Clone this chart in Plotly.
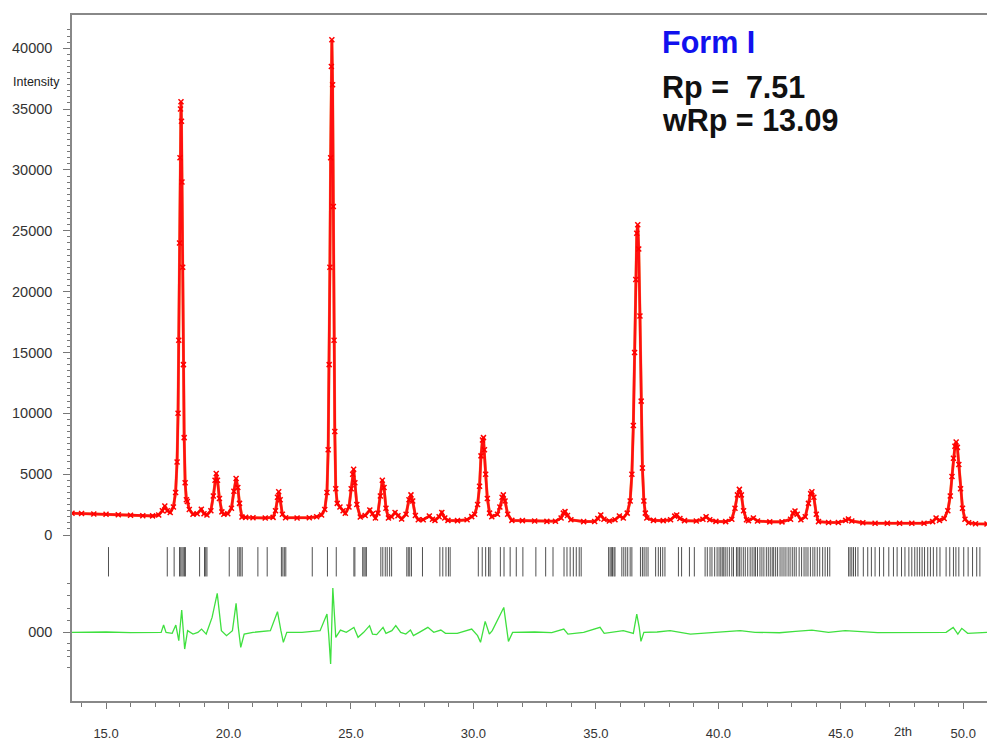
import plotly.graph_objects as go

# ---------------- data ----------------
obs_2theta = [13.61, 14.00, 14.50, 15.00, 15.50, 16.00, 16.50, 16.90, 17.15, 17.30, 17.40, 17.50, 17.62,
              17.75, 17.84, 17.90, 17.94, 17.97, 18.00, 18.02, 18.04, 18.06, 18.08, 18.10, 18.13, 18.16,
              18.19, 18.23, 18.28, 18.32, 18.40, 18.55, 18.72, 18.89, 19.00, 19.12, 19.28, 19.38, 19.45,
              19.50, 19.55, 19.63, 19.73, 19.81, 19.97, 20.12, 20.22, 20.31, 20.38, 20.45, 20.55, 20.70,
              21.00, 21.50, 21.82, 21.92, 22.00, 22.05, 22.11, 22.20, 22.33, 22.80, 23.30, 23.60, 23.80,
              23.93, 24.02, 24.07, 24.11, 24.14, 24.17, 24.20, 24.22, 24.25, 24.28, 24.31, 24.34, 24.38,
              24.44, 24.55, 24.68, 24.77, 24.92, 25.01, 25.07, 25.11, 25.16, 25.24, 25.38, 25.58, 25.77,
              25.88, 26.00, 26.10, 26.20, 26.28, 26.35, 26.43, 26.53, 26.66, 26.80, 26.92, 27.07, 27.25,
              27.37, 27.45, 27.52, 27.63, 27.75, 27.95, 28.20, 28.33, 28.43, 28.60, 28.71, 28.83, 28.96,
              29.35, 29.74, 29.93, 30.05, 30.17, 30.25, 30.31, 30.37, 30.41, 30.45, 30.50, 30.57, 30.66,
              30.75, 30.98, 31.08, 31.17, 31.22, 31.29, 31.40, 31.57, 32.00, 32.50, 33.00, 33.35, 33.58,
              33.67, 33.74, 33.84, 33.98, 34.50, 34.95, 35.08, 35.20, 35.33, 35.55, 35.78, 35.96, 36.12,
              36.28, 36.40, 36.47, 36.53, 36.58, 36.63, 36.67, 36.71, 36.75, 36.80, 36.85, 36.90, 36.96,
              37.02, 37.08, 37.35, 37.75, 38.05, 38.22, 38.30, 38.43, 38.62, 39.10, 39.37, 39.50, 39.65,
              39.90, 40.30, 40.55, 40.68, 40.78, 40.86, 40.94, 41.03, 41.15, 41.23, 41.43, 41.60, 42.10,
              42.60, 42.95, 43.05, 43.13, 43.22, 43.37, 43.55, 43.68, 43.77, 43.82, 43.90, 44.00, 44.09,
              44.50, 44.90, 45.20, 45.31, 45.45, 45.90, 46.40, 46.90, 47.40, 47.90, 48.40, 48.75, 48.89,
              49.03, 49.22, 49.37, 49.47, 49.54, 49.60, 49.66, 49.71, 49.76, 49.82, 49.89, 49.97, 50.07,
              50.22, 50.50, 50.97]
obs_intensity = [1790, 1770, 1730, 1700, 1660, 1620, 1590, 1570, 1650, 2000, 2380, 2000, 1850,
                 2300, 3500, 6000, 10000, 16000, 24000, 31000, 35000, 35600, 34000, 29000, 22000, 14000,
                 8000, 4300, 2900, 2750, 2100, 1700, 1750, 2110, 1750, 1650, 2000, 3200, 4500,
                 5050, 4500, 3000, 1900, 1700, 1750, 2200, 3600, 4650, 3900, 2600, 1480, 1450,
                 1420, 1400, 1450, 2000, 3100, 3560, 2900, 1700, 1420, 1400, 1420, 1500, 1650,
                 2100, 3500, 7000, 14000, 22000, 31000, 38500, 40700, 37000, 27000, 16000, 8500, 3800,
                 2600, 2300, 2000, 1780, 2300, 3800, 5000, 5400, 4300, 2500, 1480, 1600, 2050,
                 1750, 1400, 1800, 3200, 4500, 3900, 2200, 1400, 1500, 1850, 1580, 1320, 1700,
                 2900, 3300, 2800, 1600, 1250, 1260, 1560, 1300, 1200, 1500, 1850, 1400, 1200,
                 1180, 1250, 1510, 1700, 2500, 4000, 6500, 7800, 8000, 7000, 5000, 3000, 1800,
                 1500, 1700, 2300, 3100, 3300, 2800, 1700, 1200, 1180, 1150, 1120, 1130, 1400,
                 1800, 1920, 1600, 1250, 1100, 1110, 1350, 1640, 1300, 1150, 1250, 1560, 1400,
                 1800, 2800, 5000, 9000, 15000, 21000, 24800, 25500, 23500, 18000, 11000, 5500, 2800,
                 1800, 1400, 1200, 1180, 1250, 1550, 1640, 1350, 1180, 1150, 1300, 1500, 1250,
                 1120, 1100, 1300, 2200, 3300, 3750, 3300, 2000, 1250, 1180, 1400, 1150, 1080,
                 1080, 1300, 1800, 1970, 1700, 1260, 1500, 2600, 3400, 3550, 3100, 1700, 1100,
                 1030, 1030, 1200, 1320, 1150, 1000, 970, 960, 960, 970, 960, 1100, 1400,
                 1200, 1350, 2000, 3200, 4800, 6300, 7300, 7650, 7200, 5800, 3800, 2200, 1300,
                 1000, 930, 900]

diff_2theta = [13.61, 15.00, 16.00, 17.00, 17.25, 17.35, 17.45, 17.70, 17.85, 17.97, 18.09, 18.21, 18.33,
               18.55, 18.75, 18.90, 19.09, 19.33, 19.54, 19.71, 19.92, 20.16, 20.31, 20.40, 20.50, 20.64,
               21.00, 21.71, 22.00, 22.14, 22.24, 22.38, 23.00, 23.74, 24.02, 24.09, 24.17, 24.26, 24.38,
               24.57, 24.81, 25.12, 25.29, 25.52, 25.76, 25.88, 26.05, 26.31, 26.43, 26.67, 26.83, 27.03,
               27.24, 27.43, 27.55, 27.79, 28.14, 28.38, 28.67, 28.86, 29.34, 29.93, 30.17, 30.29, 30.48,
               30.65, 30.77, 31.24, 31.38, 31.43, 31.60, 32.50, 33.20, 33.69, 33.86, 34.50, 35.17, 35.34,
               36.12, 36.53, 36.67, 36.77, 36.84, 36.96, 37.50, 38.03, 38.86, 40.00, 40.89, 41.50, 42.50,
               43.15, 43.82, 44.50, 45.18, 46.50, 48.00, 49.30, 49.59, 49.78, 49.94, 50.18, 50.97]
diff_intensity = [0, 30, -20, 0, 0, 600, 0, -80, 600, -685, 1840, -1370, 140,
                  -140, 0, 270, -140, 1230, 3200, 140, -270, 140, 2380, 410, -1230, -140,
                  0, 140, 1700, 140, -820, 0, 0, 140, 1500, -140, -2600, 3640, -410,
                  190, 0, 410, -410, 0, 550, -140, -190, 410, -80, 140, 550, 0,
                  -140, 190, -270, 0, 410, 0, 190, -80, -80, 270, -270, -820, 900,
                  -140, 140, 2050, 140, -740, 0, 30, -20, 270, -140, 0, 410, -80,
                  140, -80, 1500, 410, -740, 0, 30, 140, -140, 0, 140, 0, -30,
                  80, 190, 0, 140, -20, 0, 0, 410, -140, 330, -80, 0]

reflection_2theta = [15.10, 17.50, 17.78, 18.00, 18.05, 18.10, 18.15, 18.20, 18.24, 18.82, 19.02, 19.07, 19.12,
                     20.03, 20.38, 20.44, 20.50, 20.56, 21.20, 21.58, 22.16, 22.22, 22.28, 22.34, 23.42,
                     24.04, 24.40, 25.12, 25.16, 25.48, 25.53, 25.58, 25.63, 26.22, 26.30, 26.40, 26.48,
                     26.58, 26.66, 27.28, 27.34, 27.40, 27.47, 27.92, 28.63, 28.75, 28.88, 28.98, 29.05,
                     30.20, 30.36, 30.50, 30.62, 30.68, 31.10, 31.25, 31.50, 31.75, 32.02, 32.55, 32.95,
                     33.25, 33.70, 33.82, 33.95, 34.08, 34.20, 34.32, 34.40, 35.52, 35.58, 35.63, 35.68,
                     35.74, 35.78, 36.06, 36.14, 36.22, 36.30, 36.40, 36.47, 36.82, 36.90, 36.97, 37.05,
                     37.13, 37.44, 37.55, 37.64, 37.73, 37.82, 38.37, 38.50, 38.82, 39.02, 39.46, 39.55,
                     39.66, 39.74, 39.85, 39.95, 40.03, 40.10, 40.16, 40.22, 40.28, 40.36, 40.45, 40.55,
                     40.62, 40.74, 40.80, 40.86, 40.93, 41.02, 41.10, 41.20, 41.30, 41.38, 41.46, 41.52,
                     41.60, 41.70, 41.78, 41.86, 41.96, 42.04, 42.12, 42.20, 42.26, 42.34, 42.42, 42.52,
                     42.60, 42.68, 42.76, 42.85, 42.93, 43.02, 43.10, 43.18, 43.30, 43.40, 43.50, 43.58,
                     43.66, 43.76, 43.86, 43.94, 44.04, 44.14, 44.26, 44.36, 44.46, 44.55, 45.32, 45.38,
                     45.45, 45.52, 45.60, 45.70, 45.92, 46.10, 46.25, 46.40, 46.58, 46.75, 46.96, 47.15,
                     47.30, 47.48, 47.62, 47.78, 47.90, 48.02, 48.12, 48.22, 48.32, 48.42, 48.55, 48.66,
                     48.78, 48.92, 49.05, 49.30, 49.45, 49.60, 49.70, 49.82, 50.02, 50.20, 50.38, 50.55,
                     50.68]

x_tick_values = [15, 20, 25, 30, 35, 40, 45, 50]
x_tick_labels = ["15.0", "20.0", "25.0", "30.0", "35.0", "40.0", "45.0", "50.0"]
y_tick_values = [-8000, 0, 5000, 10000, 15000, 20000, 25000, 30000, 35000, 40000]
y_tick_labels = ["000", "0", "5000", "10000", "15000", "20000", "25000", "30000", "35000", "40000"]
diff_minor_ticks = [-4000, -5000, -6000, -7000, -8900, -9500, -10000, -10900]

# ---------------- layout constants ----------------
DIFF_OFFSET = -8000      # where the difference curve is drawn
TICK_ROW = -2200         # where the reflection markers are drawn

fig = go.Figure()

# calculated profile (orange, under the observed points)
fig.add_trace(go.Scatter(x=obs_2theta, y=obs_intensity, mode="lines",
                         line=dict(color="#f3a257", width=3), hoverinfo="skip"))
# observed points
fig.add_trace(go.Scatter(x=obs_2theta, y=obs_intensity, mode="lines+markers",
                         line=dict(color="#ff1010", width=2.6),
                         marker=dict(symbol="x-thin-open", size=5, color="#ff0000",
                                     line=dict(color="#ff0000", width=1.5))))
# reflection positions
fig.add_trace(go.Scatter(x=reflection_2theta, y=[TICK_ROW] * len(reflection_2theta), mode="markers",
                         marker=dict(symbol="line-ns-open", size=21, color="#505050",
                                     line=dict(color="#505050", width=1))))
# difference curve
fig.add_trace(go.Scatter(x=diff_2theta, y=[DIFF_OFFSET + d for d in diff_intensity], mode="lines",
                         line=dict(color="#3fe03f", width=1.3)))

minor_y = [v for v in range(500, 42000, 500) if v % 5000 != 0] + diff_minor_ticks

fig.update_layout(
    width=987, height=740,
    margin=dict(l=72, r=0, t=15, b=39),
    paper_bgcolor="white", plot_bgcolor="white",
    showlegend=False,
    font=dict(family="Liberation Sans, Arial, sans-serif", color="#333333"),
    xaxis=dict(range=[13.61, 50.97], tickmode="array", tickvals=x_tick_values, ticktext=x_tick_labels,
               ticks="outside", ticklen=6, tickcolor="#777777", tickwidth=1,
               showline=True, linecolor="#888888", linewidth=1.5, mirror=True,
               showgrid=False, zeroline=False, tickfont=dict(size=13, color="#333333"),
               ticklabelstandoff=14,
               minor=dict(dtick=1, tick0=0, ticks="outside", ticklen=4, tickcolor="#777777")),
    yaxis=dict(range=[-13640, 42730], tickmode="array", tickvals=y_tick_values, ticktext=y_tick_labels,
               ticks="outside", ticklen=7, tickcolor="#777777", tickwidth=1,
               showline=True, linecolor="#888888", linewidth=1.5,
               showgrid=False, zeroline=False, tickfont=dict(size=14.5, color="#333333"),
               ticklabelstandoff=8,
               minor=dict(tickmode="array", tickvals=minor_y, ticks="outside", ticklen=3,
                          tickcolor="#777777")),
)

fig.add_annotation(text="Intensity", xref="paper", yref="paper", x=-0.0393, y=0.9023,
                   xanchor="center", yanchor="middle", showarrow=False,
                   font=dict(size=12.5, color="#222222"))
fig.add_annotation(text="2th", xref="x", yref="paper", x=47.54, y=0, yshift=-30,
                   xanchor="center", yanchor="middle", showarrow=False,
                   font=dict(size=13, color="#333333"))
fig.add_annotation(text="<b>Form I</b>", xref="paper", yref="paper", x=0.643, y=0.961,
                   xanchor="left", yanchor="middle", showarrow=False,
                   font=dict(size=30.5, color="#1111ee"))
fig.add_annotation(text="<b>Rp =  7.51</b>", xref="paper", yref="paper", x=0.643, y=0.8936,
                   xanchor="left", yanchor="middle", showarrow=False,
                   font=dict(size=30.5, color="#111111"))
fig.add_annotation(text="<b>wRp = 13.09</b>", xref="paper", yref="paper", x=0.643, y=0.8455,
                   xanchor="left", yanchor="middle", showarrow=False,
                   font=dict(size=30.5, color="#111111"))

fig.write_html("out.html", config={"displayModeBar": False},
               post_script="document.body.style.margin='0';document.body.style.padding='0';")
